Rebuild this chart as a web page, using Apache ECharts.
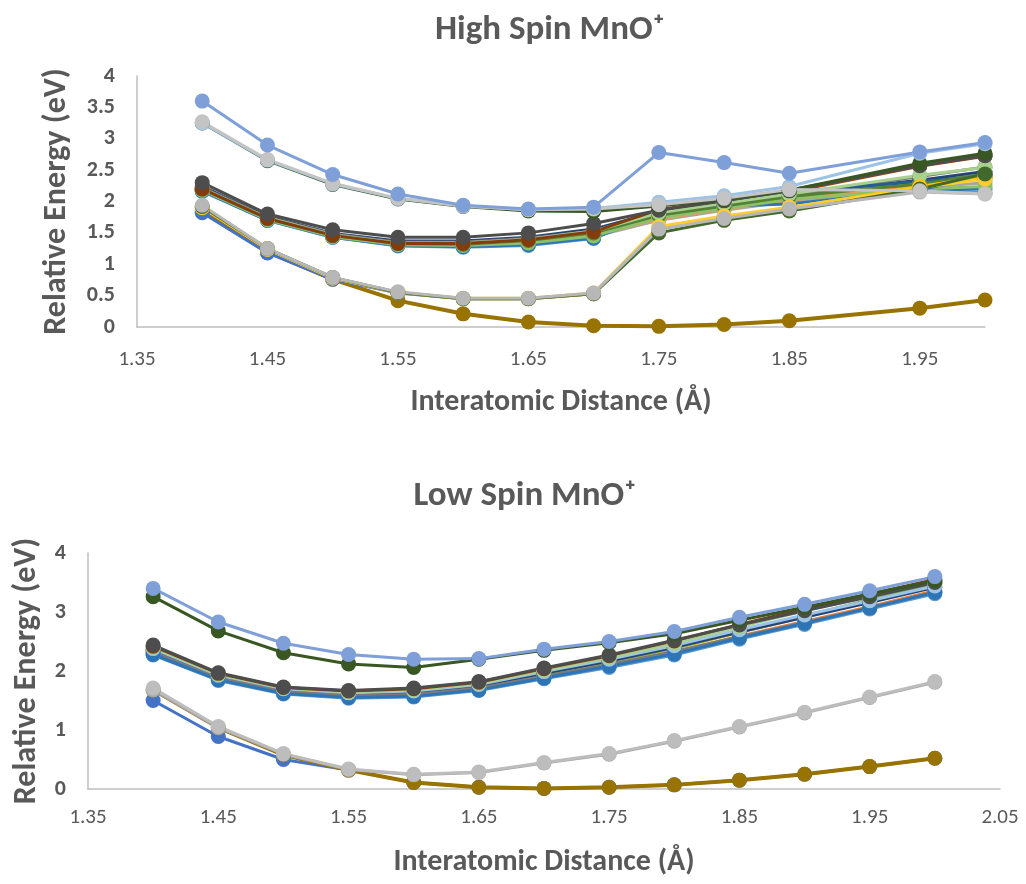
<!DOCTYPE html>
<html><head><meta charset="utf-8">
<script src="https://cdn.jsdelivr.net/npm/echarts@6/dist/echarts.min.js"></script>
<style>html,body{margin:0;padding:0;background:#fff}#c{width:1026px;height:884px}</style>
</head><body><div id="c"></div>
<script>
// ---------- data ----------
const xHigh = [1.40,1.45,1.50,1.55,1.60,1.65,1.70,1.75,1.80,1.85,1.95,2.00];
const xLow  = [1.40,1.45,1.50,1.55,1.60,1.65,1.70,1.75,1.80,1.85,1.90,1.95,2.00];

// High spin states (eV)
const hsOrange   = [2.17,1.71,1.44,1.31,1.30,1.35,1.47,1.74,1.90,2.04,2.27,2.38];
const hsGray     = [2.18,1.71,1.44,1.31,1.29,1.33,1.44,1.70,1.86,2.00,2.22,2.30];
const hsSky      = [2.16,1.70,1.43,1.29,1.27,1.30,1.41,1.83,1.99,2.13,2.17,2.14];
const hsGreen    = [2.20,1.73,1.46,1.33,1.32,1.37,1.49,1.76,1.92,2.06,2.30,2.44];
const hsNavy     = [2.24,1.76,1.49,1.37,1.37,1.43,1.56,1.84,1.98,2.12,2.34,2.48];
const hsRust     = [2.19,1.72,1.45,1.32,1.31,1.36,1.48,1.86,2.00,2.15,2.56,2.72];
const hsSlate    = [2.22,1.75,1.48,1.35,1.35,1.41,1.53,1.80,1.95,2.10,2.40,2.55];
const hsSteel    = [2.21,1.74,1.47,1.34,1.33,1.39,1.52,1.86,2.00,2.15,2.32,2.40];
const hsPeach    = [2.18,1.71,1.44,1.31,1.30,1.34,1.46,1.72,1.88,2.02,2.28,2.36];
const hsMidBlue  = [2.17,1.70,1.43,1.30,1.28,1.31,1.42,1.80,1.93,1.96,2.18,2.20];
const hsFern     = [2.18,1.71,1.44,1.31,1.30,1.34,1.45,1.74,1.89,2.03,2.20,2.24];
const hsLeaf     = [2.20,1.73,1.46,1.33,1.32,1.38,1.50,1.78,1.93,2.08,2.28,2.43];
const hsMint     = [2.21,1.74,1.47,1.34,1.34,1.40,1.53,1.82,1.97,2.12,2.42,2.54];
const hsBrown    = [2.20,1.73,1.46,1.33,1.33,1.39,1.52,1.87,2.02,2.18,2.58,2.74];
const hsCharcoal = [2.30,1.80,1.55,1.43,1.43,1.50,1.65,1.86,2.01,2.17,2.57,2.73];
const hsGround   = [1.84,1.20,0.76,0.42,0.21,0.08,0.02,0.01,0.04,0.10,0.30,0.43];
const hsBlue     = [1.82,1.18,0.76,0.54,0.45,0.45,0.53,1.56,1.74,1.88,2.18,2.42];
const hsYellow   = [1.90,1.24,0.78,0.55,0.45,0.45,0.53,1.58,1.76,1.90,2.24,2.40];
const hsGoldLt   = [1.91,1.24,0.78,0.55,0.46,0.46,0.54,1.60,1.77,1.91,2.22,2.36];
const hsOlive    = [1.92,1.25,0.79,0.55,0.45,0.45,0.53,1.50,1.70,1.85,2.20,2.44];
const hsSilver   = [1.94,1.25,0.79,0.56,0.46,0.46,0.54,1.56,1.73,1.88,2.15,2.12];
const hsForest   = [3.25,2.65,2.27,2.04,1.92,1.85,1.84,1.93,2.03,2.18,2.61,2.77];
const hsIce      = [3.25,2.66,2.28,2.05,1.93,1.87,1.89,1.99,2.09,2.24,2.77,2.92];
const hsPale     = [3.27,2.67,2.29,2.05,1.93,1.87,1.88,1.95,2.05,2.19,2.17,2.12];
const hsPeri     = [3.60,2.90,2.43,2.12,1.94,1.88,1.91,2.78,2.62,2.45,2.79,2.94];

// Low spin states (eV)
const lsOrange   = [2.30,1.87,1.64,1.57,1.59,1.70,1.90,2.10,2.32,2.59,2.84,3.09,3.36];
const lsYellow   = [2.33,1.89,1.66,1.59,1.62,1.73,1.94,2.15,2.38,2.65,2.92,3.20,3.48];
const lsSky      = [2.27,1.84,1.61,1.54,1.56,1.67,1.87,2.06,2.27,2.54,2.79,3.05,3.31];
const lsGreen    = [2.34,1.90,1.67,1.60,1.63,1.74,1.95,2.16,2.39,2.66,2.93,3.21,3.49];
const lsNavy     = [2.36,1.91,1.68,1.61,1.64,1.75,1.96,2.17,2.40,2.66,2.91,3.16,3.42];
const lsSlate    = [2.32,1.88,1.65,1.58,1.60,1.71,1.91,2.11,2.33,2.58,2.82,3.07,3.34];
const lsSteel    = [2.28,1.85,1.62,1.55,1.57,1.68,1.88,2.08,2.29,2.56,2.81,3.07,3.33];
const lsIce      = [2.38,1.93,1.70,1.63,1.66,1.77,1.99,2.20,2.43,2.70,2.95,3.19,3.44];
const lsMint     = [2.40,1.94,1.71,1.64,1.68,1.79,2.01,2.23,2.47,2.75,3.02,3.27,3.52];
const lsBrown    = [2.42,1.96,1.72,1.66,1.70,1.81,2.04,2.26,2.51,2.79,3.05,3.30,3.55];
const lsCharcoal = [2.44,1.97,1.73,1.67,1.71,1.82,2.05,2.27,2.52,2.78,3.02,3.26,3.50];
const lsBlue     = [1.50,0.89,0.50,0.32,0.11,0.03,0.01,0.03,0.07,0.15,0.25,0.38,0.52];
const lsGround   = [1.68,1.04,0.58,0.32,0.11,0.03,0.01,0.03,0.07,0.15,0.25,0.38,0.52];
const lsGray     = [1.68,1.04,0.59,0.33,0.24,0.28,0.44,0.59,0.81,1.05,1.29,1.55,1.81];
const lsSilver   = [1.71,1.06,0.60,0.34,0.25,0.29,0.45,0.60,0.82,1.06,1.30,1.56,1.82];
const lsForest   = [3.26,2.68,2.31,2.12,2.06,2.20,2.35,2.48,2.63,2.86,3.08,3.31,3.53];
const lsPeri     = [3.40,2.83,2.47,2.28,2.20,2.21,2.37,2.50,2.67,2.91,3.13,3.36,3.60];

const titleHigh = 'High Spin MnO\u207A';
const titleLow = 'Low Spin MnO\u207A';
const xName = 'Interatomic Distance (\u00C5)';
const yName = 'Relative Energy (eV)';

// ---------- build ----------
const FONT = 'Carlito, "Liberation Sans Narrow", "Open Sans", sans-serif';
const TXT = '#595959';
const AX = '#BFBFBF';

const highSet = [
  [hsOrange,'#ED7D31'],[hsGray,'#A5A5A5'],[hsSky,'#5B9BD5'],[hsGreen,'#70AD47'],
  [hsNavy,'#264478'],[hsRust,'#9E480E'],[hsSlate,'#7B7B7B'],[hsSteel,'#255E91'],
  [hsPeach,'#F1975A'],[hsMidBlue,'#2E75B6'],[hsFern,'#8CC168'],[hsLeaf,'#548235'],
  [hsMint,'#A9D18E'],[hsBrown,'#843C0C'],[hsCharcoal,'#4D4D4D'],
  [hsGround,'#997300',4],[hsBlue,'#4472C4'],[hsYellow,'#FFC000'],[hsGoldLt,'#FFCD33'],
  [hsOlive,'#43682B'],[hsSilver,'#B7B7B7'],
  [hsForest,'#385723'],[hsIce,'#9DC3E6'],[hsPale,'#C4C4C4'],[hsPeri,'#7F9FD8']
];
const lowSet = [
  [lsOrange,'#ED7D31'],[lsYellow,'#FFC000'],[lsSky,'#5B9BD5'],[lsGreen,'#70AD47'],
  [lsNavy,'#264478'],[lsSlate,'#7B7B7B'],[lsSteel,'#2E75B6'],[lsIce,'#9DC3E6'],
  [lsMint,'#A9D18E'],[lsBrown,'#843C0C'],[lsCharcoal,'#4D4D4D'],
  [lsBlue,'#4472C4'],[lsGround,'#997300',4],[lsGray,'#A5A5A5'],[lsSilver,'#BDBDBD'],
  [lsForest,'#385723'],[lsPeri,'#7F9FD8']
];

function mk(vals, xs, color, width, idx) {
  return {
    type: 'line', xAxisIndex: idx, yAxisIndex: idx,
    data: xs.map((x, i) => [x, vals[i]]),
    symbol: 'circle', symbolSize: 15, showSymbol: true,
    lineStyle: { width: width || 3, color: color },
    itemStyle: { color: color },
    emphasis: { disabled: true }, silent: true
  };
}
const series = [];
highSet.forEach(s => series.push(mk(s[0], xHigh, s[1], s[2], 0)));
lowSet.forEach(s => series.push(mk(s[0], xLow, s[1], s[2], 1)));

function xAxis(idx, max, gap, margin) {
  return {
    type: 'value', gridIndex: idx, min: 1.35, max: max, interval: 0.1,
    axisLine: { show: true, lineStyle: { color: AX, width: 1.5 } },
    axisTick: { show: false }, splitLine: { show: false },
    axisLabel: { color: TXT, fontSize: 21, fontFamily: FONT, margin: margin,
      showMaxLabel: idx === 1, formatter: v => v.toFixed(2) },
    name: xName, nameLocation: 'middle', nameGap: gap,
    nameTextStyle: { color: TXT, fontSize: 30, fontWeight: 'bold', fontFamily: FONT }
  };
}
function yAxis(idx, interval, gap) {
  return {
    type: 'value', gridIndex: idx, min: 0, max: 4, interval: interval,
    axisLine: { show: true, lineStyle: { color: AX, width: 1.5 } },
    axisTick: { show: false }, splitLine: { show: false },
    axisLabel: { color: TXT, fontSize: 22, fontWeight: 'bold', fontFamily: FONT, margin: 22 },
    name: yName, nameLocation: 'middle', nameGap: gap, nameRotate: 90,
    nameTextStyle: { color: TXT, fontSize: 32, fontWeight: 'bold', fontFamily: FONT }
  };
}

const chart = echarts.init(document.getElementById('c'), null, { renderer: 'canvas' });
chart.setOption({
  animation: false,
  backgroundColor: '#fff',
  title: [
    { text: titleHigh, left: 545, top: 8, textAlign: 'center',
      textStyle: { color: TXT, fontSize: 35, fontWeight: 'bold', fontFamily: FONT } },
    { text: titleLow, left: 520, top: 474, textAlign: 'center',
      textStyle: { color: TXT, fontSize: 35, fontWeight: 'bold', fontFamily: FONT } }
  ],
  grid: [
    { left: 137, right: 41, top: 76, bottom: 557 },
    { left: 88, right: 26, top: 553, bottom: 95 }
  ],
  xAxis: [ xAxis(0, 2.0, 60, 22), xAxis(1, 2.05, 58, 18) ],
  yAxis: [ yAxis(0, 0.5, 64), yAxis(1, 1, 45) ],
  series: series
});
</script>
</body></html>
